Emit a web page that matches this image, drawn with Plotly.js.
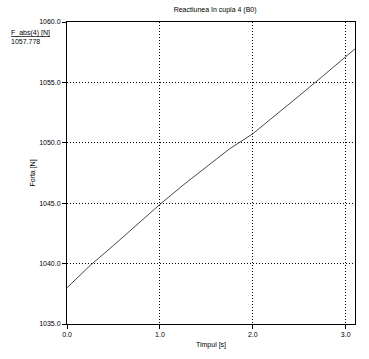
<!DOCTYPE html>
<html>
<head>
<meta charset="utf-8">
<script src="https://cdn.plot.ly/plotly-3.0.1.min.js"></script>
<style>html,body{margin:0;padding:0;background:#fff;}#chart{width:369px;height:359px;}</style>
</head>
<body>
<div id="chart"></div>
<script>
var timeS = [0, 0.25, 0.5, 0.75, 1.0, 1.25, 1.5, 1.75, 2.0, 2.25, 2.5, 2.75, 3.0, 3.1];
var forceN = [1038.0, 1039.85, 1041.5, 1043.2, 1044.9, 1046.5, 1048.0, 1049.5, 1050.75, 1052.3, 1053.9, 1055.5, 1057.1, 1057.778];
var seriesName = "F_abs(4) [N]";
var lastValueLabel = "1057.778";
var xTicks = [0, 1, 2, 3];
var yTicks = [1035, 1040, 1045, 1050, 1055, 1060];

var font = {family: "Liberation Sans, Arial, sans-serif", size: 7, color: "#000"};

var trace = {
  x: timeS, y: forceN, type: "scatter", mode: "lines",
  line: {color: "#333", width: 0.9}, name: seriesName, hoverinfo: "skip"
};

var layout = {
  width: 369, height: 359,
  margin: {l: 67, r: 14, t: 22, b: 35},
  paper_bgcolor: "#fff", plot_bgcolor: "#fff",
  showlegend: false,
  font: font,
  title: {text: "Reactiunea în cupla 4 (B0)", font: {family: font.family, size: 7, color: "#000"}, x: 0.583, xanchor: "center", y: 0.98, yanchor: "top"},
  xaxis: {
    range: [0, 3.1], tickvals: xTicks, tickformat: ".1f",
    showline: true, linecolor: "#000", linewidth: 1, mirror: true,
    ticks: "outside", ticklen: 4, tickcolor: "#000",
    showgrid: true, gridcolor: "#000", griddash: "1px,2px", gridwidth: 1,
    zeroline: false, tickfont: font,
    title: {text: "Timpul [s]", font: font, standoff: 4}
  },
  yaxis: {
    range: [1035, 1060], tickvals: yTicks, tickformat: ".1f",
    showline: true, linecolor: "#000", linewidth: 1, mirror: true,
    ticks: "outside", ticklen: 4, tickcolor: "#000",
    showgrid: true, gridcolor: "#000", griddash: "1px,2px", gridwidth: 1,
    zeroline: false, tickfont: font,
    title: {text: "Forta [N]", font: font, standoff: 2}
  },
  annotations: [
    {xref: "paper", yref: "paper", x: -0.2, y: 0.965, xanchor: "left", yanchor: "middle",
     text: "<u>" + seriesName + "</u>", showarrow: false, font: font},
    {xref: "paper", yref: "paper", x: -0.2, y: 0.935, xanchor: "left", yanchor: "middle",
     text: lastValueLabel, showarrow: false, font: font}
  ]
};

Plotly.newPlot("chart", [trace], layout, {displayModeBar: false, staticPlot: true});
</script>
</body>
</html>
